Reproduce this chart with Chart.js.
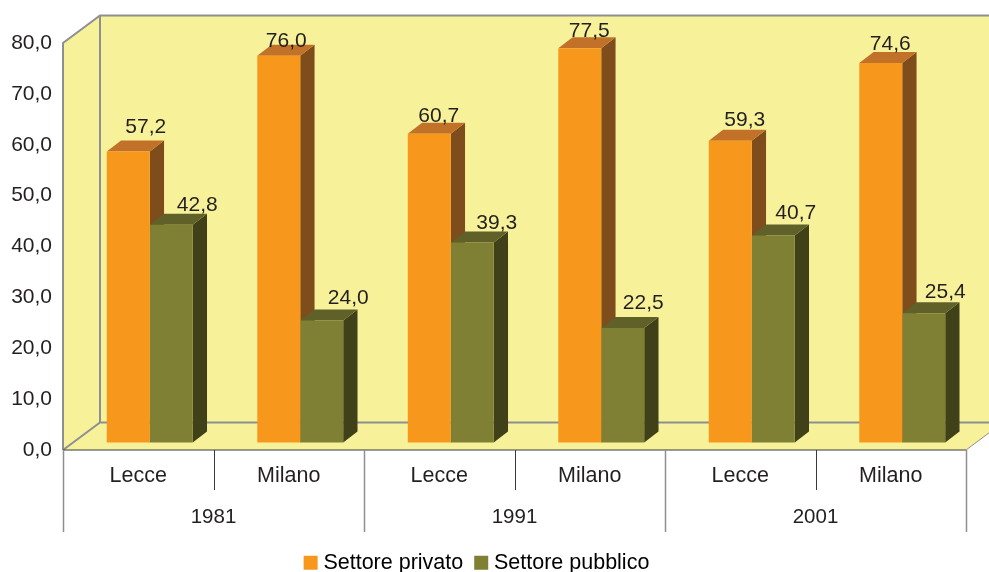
<!DOCTYPE html>
<html>
<head>
<meta charset="utf-8">
<title>Settore privato e pubblico</title>
<script src="https://cdn.jsdelivr.net/npm/chart.js@4/dist/chart.umd.js"></script>
<style>
    html, body { margin: 0; padding: 0; background: #fff; }
    #wrap { width: 989px; height: 572px; }
</style>
</head>
<body>
<div id="wrap"><canvas id="chart"></canvas></div>
<script>
// Data
const cityLabels = ['Lecce', 'Milano', 'Lecce', 'Milano', 'Lecce', 'Milano'];
const yearLabels = ['1981', '1991', '2001'];
const privatoValues = [57.2, 76.0, 60.7, 77.5, 59.3, 74.6];
const pubblicoValues = [42.8, 24.0, 39.3, 22.5, 40.7, 25.4];

const textColor = '#231f20';
const fontFamily = '"Liberation Sans", Arial, sans-serif';
const numberSize = 21;
const wordSize = 21.5;

// Hand placed value labels in the original, shift from the top centre of each bar
const labelShift = [
    [[17.5, -18], [7.5, -9], [9.5, -12], [9.5, -11], [14.5, -15], [9.5, -13]],
    [[26, -14], [26.5, -16], [24.5, -14], [20.5, -19], [22.5, -16], [21.5, -15]]
];

// 3D look
const wall = { dx: 37, dy: 27.5, fill: '#f7f29a', line: '#8d8f92' };
const barShift = { x: 11.5, y: -7.5 };
const barDepth = { x: 14.3, y: 11 };
const sideColors = ['#7f4c1c', '#404119'];
const topColors = ['#c17228', '#5f6128'];

function formatValue(v) {
    return v.toFixed(1).replace('.', ',');
}

function poly(ctx, pts, fill) {
    ctx.beginPath();
    pts.forEach((p, i) => i ? ctx.lineTo(p[0], p[1]) : ctx.moveTo(p[0], p[1]));
    ctx.closePath();
    ctx.fillStyle = fill;
    ctx.fill();
}

function stroke(ctx, pts, color, width) {
    ctx.beginPath();
    pts.forEach((p, i) => i ? ctx.lineTo(p[0], p[1]) : ctx.moveTo(p[0], p[1]));
    ctx.strokeStyle = color;
    ctx.lineWidth = width;
    ctx.stroke();
}

const box3d = {
    id: 'box3d',
    afterLayout(chart) {
        // legend sits left of the page centre and lower than its box
        chart.legend.left -= 4;
        chart.legend.right -= 4;
        chart.legend.top += 4;
        chart.legend.bottom += 4;
    },
    beforeDatasetsDraw(chart) {
        const { ctx, chartArea: a } = chart;
        const dx = wall.dx, dy = wall.dy;

        // walls and floor
        poly(ctx, [[a.left + dx, a.top - dy], [a.right + dx, a.top - dy], [a.right + dx, a.bottom - dy], [a.left + dx, a.bottom - dy]], wall.fill);
        poly(ctx, [[a.left, a.top], [a.left + dx, a.top - dy], [a.left + dx, a.bottom - dy], [a.left, a.bottom]], wall.fill);
        poly(ctx, [[a.left, a.bottom], [a.left + dx, a.bottom - dy], [a.right + dx, a.bottom - dy], [a.right, a.bottom]], wall.fill);

        stroke(ctx, [[a.left, a.bottom], [a.left, a.top], [a.left + dx, a.top - dy], [chart.width, a.top - dy]], wall.line, 2);
        stroke(ctx, [[a.left + dx, a.top - dy], [a.left + dx, a.bottom - dy]], wall.line, 2);
        stroke(ctx, [[a.left, a.bottom], [a.left + dx, a.bottom - dy], [chart.width, a.bottom - dy]], wall.line, 2);
        stroke(ctx, [[a.right, a.bottom], [a.right + dx, a.bottom - dy]], wall.line, 1);

        // the bars themselves stand a little way back from the front edge
        ctx.save();
        ctx.translate(barShift.x, barShift.y);
        chart.data.labels.forEach((_, i) => {
            chart.data.datasets.forEach((ds, d) => {
                const el = chart.getDatasetMeta(d).data[i];
                const r = el.x + el.width / 2, l = el.x - el.width / 2;
                const t = el.y, b = el.base;
                poly(ctx, [[r, t], [r + barDepth.x, t - barDepth.y], [r + barDepth.x, b - barDepth.y], [r, b]], sideColors[d]);
                poly(ctx, [[l, t], [l + barDepth.x, t - barDepth.y], [r + barDepth.x, t - barDepth.y], [r, t]], topColors[d]);
            });
        });
    },
    afterDatasetsDraw(chart) {
        const { ctx, chartArea: a, scales } = chart;
        ctx.restore();

        // value labels
        ctx.save();
        ctx.font = numberSize + 'px ' + fontFamily;
        ctx.fillStyle = textColor;
        ctx.textAlign = 'center';
        ctx.textBaseline = 'alphabetic';
        chart.data.datasets.forEach((ds, d) => {
            chart.getDatasetMeta(d).data.forEach((el, i) => {
                const s = labelShift[d][i];
                ctx.fillText(formatValue(ds.data[i]), el.x + barShift.x + s[0], el.y + barShift.y + s[1]);
            });
        });
        ctx.restore();

        // front edge and the two level category separators
        stroke(ctx, [[a.left, a.bottom], [a.right, a.bottom]], '#3a3a3a', 1);
        const bottom = scales.x2.bottom;
        cityLabels.forEach((_, i) => {
            const x = Math.round(scales.x.getPixelForValue(i + 0.5)) + 0.5;
            if (i % 2 === 0) {
                stroke(ctx, [[x, a.bottom], [x, scales.x.bottom]], '#3a3a3a', 1);
            } else {
                stroke(ctx, [[x, a.bottom], [x, bottom]], wall.line, 1.5);
            }
        });
        stroke(ctx, [[a.left + 0.5, a.bottom], [a.left + 0.5, bottom]], wall.line, 1.5);
    }
};

new Chart(document.getElementById('chart'), {
    type: 'bar',
    data: {
        labels: cityLabels,
        datasets: [
            { label: 'Settore privato', data: privatoValues, backgroundColor: '#f7981d', borderWidth: 0, clip: false },
            { label: 'Settore pubblico', data: pubblicoValues, backgroundColor: '#7f8033', borderWidth: 0, clip: false }
        ]
    },
    plugins: [box3d],
    options: {
        responsive: true,
        maintainAspectRatio: false,
        animation: false,
        barPercentage: 1,
        categoryPercentage: 0.571,
        // negative bottom: the legend padding is only wanted for the gap between its items
        layout: { padding: { top: 43, right: 23, left: 0, bottom: -7.5 } },
        scales: {
            x: {
                grid: { display: false },
                border: { display: false },
                afterFit(scale) { scale.height = 40; },
                ticks: {
                    autoSkip: false, maxRotation: 0, padding: 5,
                    color: textColor, font: { family: fontFamily, size: wordSize }
                }
            },
            x2: {
                type: 'category',
                labels: yearLabels,
                position: 'bottom',
                offset: true,
                weight: 1,
                grid: { display: false },
                border: { display: false },
                afterFit(scale) { scale.height = 42; },
                ticks: {
                    maxRotation: 0, padding: 7,
                    color: textColor, font: { family: fontFamily, size: 20.5 }
                }
            },
            y: {
                min: 0,
                max: 80,
                grid: { display: false },
                border: { display: false },
                afterFit(scale) { scale.width = 63; },
                ticks: {
                    stepSize: 10, padding: 3,
                    color: textColor, font: { family: fontFamily, size: numberSize },
                    callback: v => formatValue(v)
                }
            }
        },
        plugins: {
            tooltip: { enabled: false },
            legend: {
                position: 'bottom',
                labels: {
                    // small box with a thick same colour stroke: keeps the swatch close to its text
                    boxWidth: 4, boxHeight: 4, padding: 16,
                    color: textColor, font: { family: fontFamily, size: wordSize },
                    generateLabels(chart) {
                        return chart.data.datasets.map((ds, i) => ({
                            text: ds.label, fillStyle: ds.backgroundColor,
                            strokeStyle: ds.backgroundColor, lineWidth: 10,
                            datasetIndex: i, hidden: false
                        }));
                    }
                }
            }
        }
    }
});
</script>
</body>
</html>
